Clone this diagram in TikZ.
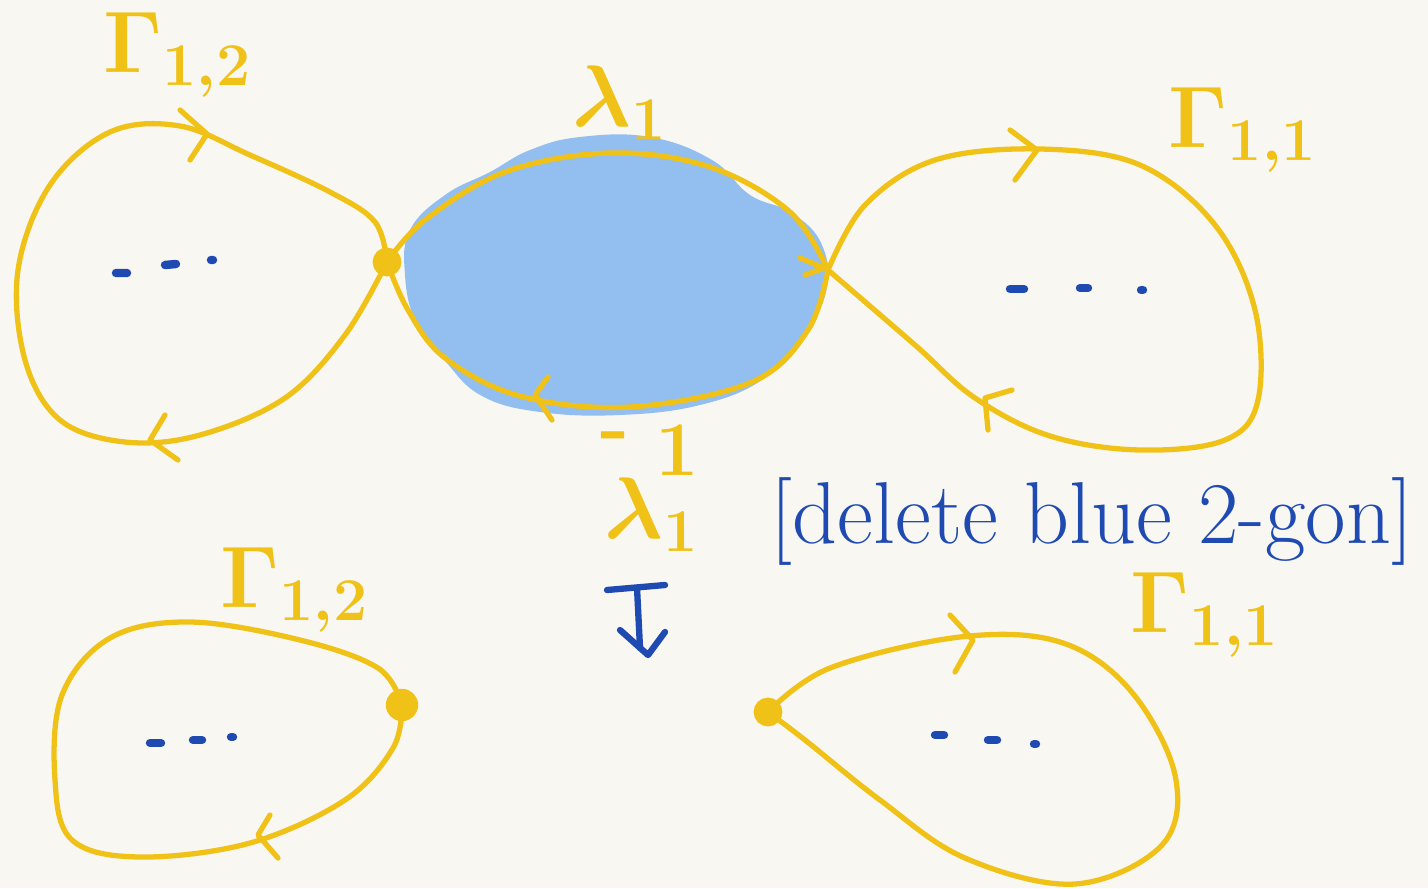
\documentclass[tikz,border=0pt]{standalone}
\usetikzlibrary{calc}
\definecolor{paper}{RGB}{249,247,242}
\definecolor{gold}{RGB}{240,194,24}
\definecolor{ink}{RGB}{30,74,178}
\definecolor{blob}{RGB}{147,190,240}
\tikzset{
  loopline/.style={draw=gold, line width=1.5pt, line cap=round, line join=round},
  chev/.style={draw=gold, line width=1.5pt, line cap=round, line join=round},
  lab/.style={text=gold, font=\fontsize{24}{28}\selectfont\boldmath, inner sep=0pt},
  slab/.style={text=gold, font=\fontsize{22}{26}\selectfont\bfseries, inner sep=0pt},
  note/.style={text=ink, font=\fontsize{25}{30}\selectfont, inner sep=0pt},
  vdot/.style={draw=ink, line width=2.4pt, line cap=round},
  vtx/.style={fill=gold, draw=gold, line width=1.2pt, circle, minimum size=9pt, inner sep=0pt},
  downarr/.style={draw=ink, line width=1.8pt, line cap=round, line join=round},
}
\begin{document}
\begin{tikzpicture}[x=0.01cm,y=-0.01cm]
\fill[paper] (0,0) rectangle (1428,888);
\useasboundingbox (0,0) rectangle (1428,888);

% blue blob
\fill[blob] plot[smooth cycle, tension=0.7] coordinates {(410,230) (445,195) (490,172) (530,150) (580,137) (650,137) (712,160) (750,195) (792,213) (822,245) (826,292) (800,340) (762,380) (700,405) (620,415) (540,412) (482,396) (446,362) (416,322) (405,275)};

% vertices
\coordinate (vL) at (387,262);
\coordinate (vR) at (828,270);
\coordinate (vBL) at (402,705);
\coordinate (vBR) at (768,712);

% top-left loop
\draw[loopline] plot[smooth, tension=0.6] coordinates {(vL) (375,222) (330,192) (250,155) (180,126) (110,132) (50,185) (18,270) (25,360) (60,420) (125,442) (200,435) (285,398) (345,335) (vL)};
% top-right loop
\draw[loopline] plot[smooth, tension=0.6] coordinates {(vR) (865,205) (935,160) (1040,149) (1140,165) (1215,225) (1255,310) (1258,400) (1225,440) (1140,450) (1050,436) (975,398) (915,345) (vR)};
% 2-gon
\draw[loopline] plot[smooth, tension=0.6] coordinates {(vL) (425,220) (505,172) (610,153) (710,167) (790,212) (vR)};
\draw[loopline] plot[smooth, tension=0.6] coordinates {(vR) (808,330) (752,382) (630,407) (520,396) (445,358) (408,310) (vL)};

% bottom-left loop
\draw[loopline] plot[smooth, tension=0.6] coordinates {(vBL) (378,668) (300,640) (190,622) (110,638) (62,695) (55,780) (72,840) (140,857) (250,843) (345,800) (393,748) (vBL)};
% bottom-right loop
\draw[loopline] plot[smooth, tension=0.6] coordinates {(vBR) (830,668) (960,637) (1060,642) (1130,690) (1175,775) (1162,845) (1075,884) (965,858) (880,800) (805,740) (vBR)};

% vertex marks
\node[vtx, minimum size=7pt] (mL) at (vL) {};
\node[vtx, minimum size=8pt] (mBL) at (vBL) {};
\node[vtx, minimum size=7pt] (mBR) at (vBR) {};

% chevrons
\draw[chev] (180,110) -- (207,134) -- (190,160);
\draw[chev] (165,415) -- (150,440) -- (178,460);
\draw[chev] (1010,130) -- (1037,150) -- (1015,180);
\draw[chev] (1012,390) -- (985,398) -- (988,430);
\draw[chev] (548,377) -- (535,395) -- (552,420);
\draw[chev] (800,258) -- (824,268) -- (805,275);
\draw[chev] (270,815) -- (258,835) -- (278,858);
\draw[chev] (950,615) -- (973,640) -- (955,672);

% dots
\draw[vdot] (116,273) -- (127,273) (165,265) -- (176,264) (211,260) -- (213,260);
\draw[vdot] (1010,289) -- (1024,289) (1080,288) -- (1088,288) (1141,290) -- (1143,290);
\draw[vdot] (150,743) -- (161,743) (193,740) -- (202,740) (231,737) -- (233,737);
\draw[vdot] (935,735) -- (944,735) (988,740) -- (997,740) (1034,744) -- (1036,744);

% labels
\node[lab] (g12a) at (178,55) {$\Gamma_{1,2}$};
\node[lab] (l1) at (620,103) {$\lambda_1$};
\node[lab] (g11a) at (1243,130) {$\Gamma_{1,1}$};
\node[slab] (m1) at (650,450) {\raisebox{0.3em}{-}\,\,1};
\node[lab] (l1b) at (652,515) {$\lambda_1$};
\node[lab] (g12b) at (295,590) {$\Gamma_{1,2}$};
\node[lab] (g11b) at (1205,615) {$\Gamma_{1,1}$};
\node[note] (del) at (1092,522) {[delete blue 2-gon]};

% down arrow
\coordinate (aT) at (637,588);
\coordinate (aB) at (648,655);
\draw[downarr] (607,590) -- (665,585);
\draw[downarr] (aT) -- (640,648);
\draw[downarr] (620,630) -- (aB) -- (665,632);
\end{tikzpicture}
\end{document}
